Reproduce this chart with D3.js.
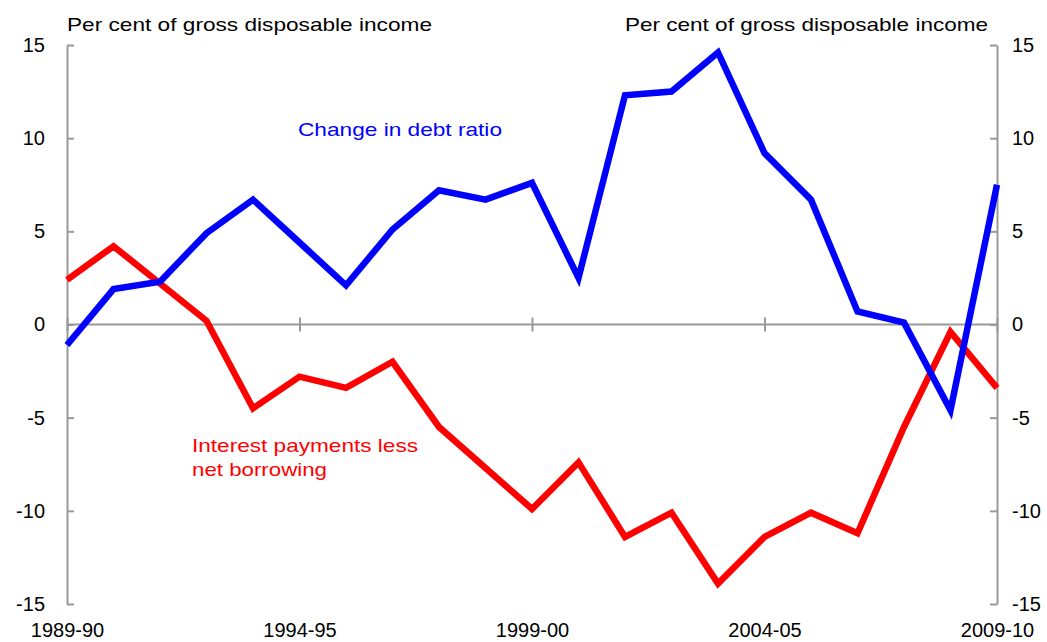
<!DOCTYPE html>
<html>
<head>
<meta charset="utf-8">
<script src="https://cdn.jsdelivr.net/npm/d3@7"></script>
<style>
  body { margin: 0; background: #fff; }
  svg { display: block; }
  text { font-family: "Liberation Sans", Arial, sans-serif; }
</style>
</head>
<body>
<div class="chart-container"></div>
<script>
// financial years along the x axis
var years = ["1989-90", "1990-91", "1991-92", "1992-93", "1993-94", "1994-95",
    "1995-96", "1996-97", "1997-98", "1998-99", "1999-00", "2000-01", "2001-02",
    "2002-03", "2003-04", "2004-05", "2005-06", "2006-07", "2007-08", "2008-09", "2009-10"];
var yearTicks = ["1989-90", "1994-95", "1999-00", "2004-05", "2009-10"];

// per cent of gross disposable income
var debtChange = [-1.1, 1.9, 2.3, 4.9, 6.7, 4.4, 2.1, 5.1, 7.2, 6.7, 7.6,
    2.5, 12.3, 12.5, 14.6, 9.2, 6.7, 0.7, 0.1, -4.6, 7.5];
var interestLessBorrowing = [2.4, 4.2, 2.2, 0.2, -4.5, -2.8, -3.4, -2.0, -5.5, -7.7, -9.9,
    -7.4, -11.4, -10.1, -13.9, -11.4, -10.1, -11.2, -5.5, -0.4, -3.4];

var yTicks = [-15, -10, -5, 0, 5, 10, 15];

var width = 1047, height = 642;
var plotLeft = 67, plotRight = 997, plotTop = 45, plotBottom = 604;
var axisColor = "#999999";

var svg = d3.select(".chart-container")
        .append("svg")
        .attr("width", width)
        .attr("height", height);

var x = d3.scalePoint()
        .domain(years)
        .range([plotLeft, plotRight]);

var y = d3.scaleLinear()
        .domain([-15, 15])
        .range([plotBottom, plotTop]);

// plain hyphen for negatives, like the original
var plainNumber = function (d) {
    return String(d);
};

function styleAxis(g) {
    g.selectAll("path.domain").attr("stroke", axisColor).attr("stroke-width", 2);
    g.selectAll(".tick line").attr("stroke", axisColor).attr("stroke-width", 2);
    g.selectAll("text")
            .attr("fill", "#000")
            .style("font-size", "20px")
            .style("font-family", "'Liberation Sans', Arial, sans-serif");
}

// left and right value axes, ticks pointing inwards
svg.append("g")
        .attr("transform", "translate(" + plotLeft + ",0)")
        .call(d3.axisLeft(y).tickValues(yTicks).tickFormat(plainNumber)
                .tickSize(-7).tickSizeOuter(0).tickPadding(22))
        .call(styleAxis);

svg.append("g")
        .attr("transform", "translate(" + plotRight + ",0)")
        .call(d3.axisRight(y).tickValues(yTicks).tickFormat(plainNumber)
                .tickSize(-7).tickSizeOuter(0).tickPadding(15))
        .call(styleAxis)
        .selectAll("text").attr("text-anchor", "start");

// zero line with crossing ticks
svg.append("line")
        .attr("x1", plotLeft).attr("x2", plotRight)
        .attr("y1", y(0)).attr("y2", y(0))
        .attr("stroke", axisColor)
        .attr("stroke-width", 2);

svg.append("g")
        .attr("transform", "translate(0," + (y(0) - 7) + ")")
        .call(d3.axisBottom(x).tickValues(yearTicks).tickSize(14).tickFormat(""))
        .call(styleAxis)
        .select("path.domain").remove();

// year labels along the bottom
svg.append("g")
        .attr("transform", "translate(0," + plotBottom + ")")
        .call(d3.axisBottom(x).tickValues(yearTicks).tickSize(0).tickPadding(19))
        .call(styleAxis)
        .select("path.domain").remove();

// unit labels
svg.append("text")
        .attr("x", plotLeft)
        .attr("y", 31)
        .attr("textLength", 365)
        .attr("lengthAdjust", "spacingAndGlyphs")
        .style("font-size", "19px")
        .text("Per cent of gross disposable income");

svg.append("text")
        .attr("x", 625)
        .attr("y", 31)
        .attr("textLength", 363)
        .attr("lengthAdjust", "spacingAndGlyphs")
        .style("font-size", "19px")
        .text("Per cent of gross disposable income");

// series
var line = d3.line()
        .x(function (d, i) {
            return x(years[i]);
        })
        .y(function (d) {
            return y(d);
        });

svg.append("path")
        .datum(interestLessBorrowing)
        .attr("d", line)
        .attr("fill", "none")
        .attr("stroke", "#ff0000")
        .attr("stroke-width", 6.5)
        .attr("stroke-linejoin", "miter");

svg.append("path")
        .datum(debtChange)
        .attr("d", line)
        .attr("fill", "none")
        .attr("stroke", "#0000ff")
        .attr("stroke-width", 6.5)
        .attr("stroke-linejoin", "miter");

// series labels
svg.append("text")
        .attr("x", 298)
        .attr("y", 136)
        .attr("textLength", 204)
        .attr("lengthAdjust", "spacingAndGlyphs")
        .attr("fill", "#0000ff")
        .style("font-size", "19px")
        .text("Change in debt ratio");

svg.append("text")
        .attr("x", 192)
        .attr("y", 452)
        .attr("textLength", 226)
        .attr("lengthAdjust", "spacingAndGlyphs")
        .attr("fill", "#ff0000")
        .style("font-size", "19px")
        .text("Interest payments less");

svg.append("text")
        .attr("x", 192)
        .attr("y", 476)
        .attr("textLength", 135)
        .attr("lengthAdjust", "spacingAndGlyphs")
        .attr("fill", "#ff0000")
        .style("font-size", "19px")
        .text("net borrowing");
</script>
</body>
</html>
